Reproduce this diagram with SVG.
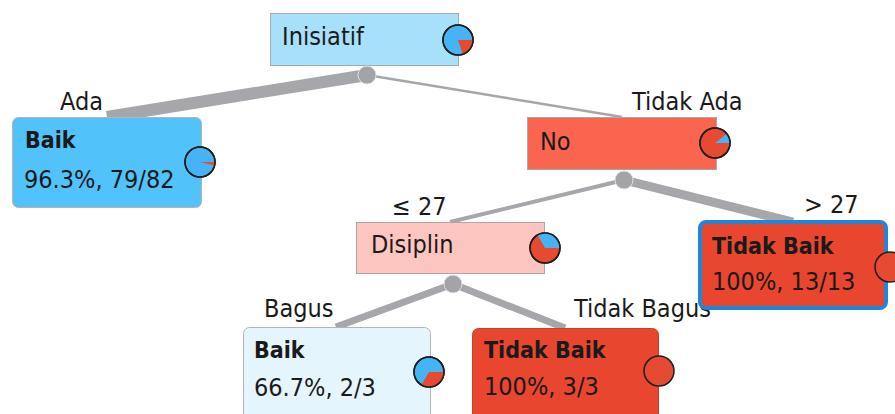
<svg xmlns="http://www.w3.org/2000/svg" width="895" height="414" viewBox="0 0 895 414">
<style>
text{font-family:"DejaVu Sans Condensed","DejaVu Sans",sans-serif;font-stretch:condensed;font-size:25px;fill:#1a1a1a}
.b{font-weight:bold;font-size:23px}
.lbl{fill:#1a1a1a}
.edge{stroke:#a6a6ab;fill:none;stroke-linecap:butt}
.knob{fill:#a3a3a8;stroke:#e0e0e4;stroke-width:1}
.inner{stroke:#a9a9a9;stroke-width:1}
.leaf{stroke:#b4b4b4;stroke-width:1}
.pie{stroke:#1e1e1e;stroke-width:1.5}
.blue{fill:#45b3f4}
.red{fill:#e64a30}
</style>
<rect width="895" height="414" fill="#ffffff"/>
<g id="connectors">
<line class="edge" x1="367" y1="75" x2="107" y2="117" stroke-width="12"/>
<line class="edge" x1="367" y1="75" x2="622" y2="117" stroke-width="2.5"/>
<line class="edge" x1="624" y1="180" x2="450" y2="222" stroke-width="4"/>
<line class="edge" x1="624" y1="180" x2="793" y2="222" stroke-width="9"/>
<line class="edge" x1="453" y1="284" x2="336" y2="327" stroke-width="7"/>
<line class="edge" x1="453" y1="284" x2="565" y2="328" stroke-width="7"/>
<text class="lbl" x="60" y="110">Ada</text>
<text class="lbl" x="632" y="110">Tidak Ada</text>
<text class="lbl" x="392" y="215">≤ 27</text>
<text class="lbl" x="804" y="213">&gt; 27</text>
<text class="lbl" x="264" y="317">Bagus</text>
<text class="lbl" x="574" y="317">Tidak Bagus</text>
</g>
<g id="node-inisiatif">
<rect class="inner" x="270.5" y="13.5" width="188" height="52" fill="#a6e0fb"/>
<circle class="knob" cx="367" cy="75" r="9"/>
<text x="282" y="45">Inisiatif</text>
<circle class="blue pie" cx="458" cy="40" r="15"/>
<path class="red" d="M458,40 L473,40 A15,15 0 0 1 462.8,54.2 Z"/>
<circle cx="458" cy="40" r="15" fill="none" class="pie"/>
</g>
<g id="node-baik-ada">
<rect class="leaf" x="12.5" y="117.5" width="189" height="90" rx="6" fill="#52c2fa"/>
<text class="b" x="25" y="148">Baik</text>
<text x="24" y="188">96.3%, 79/82</text>
<circle class="blue pie" cx="200" cy="162" r="15"/>
<path class="red" d="M200,162 L215,162 A15,15 0 0 1 214.6,165.4 Z"/>
<circle cx="200" cy="162" r="15" fill="none" class="pie"/>
</g>
<g id="node-no">
<rect class="inner" x="527.5" y="117.5" width="189" height="52" fill="#fa6550"/>
<circle class="knob" cx="624" cy="180" r="9"/>
<text x="540" y="150">No</text>
<circle class="red pie" cx="715" cy="143" r="15"/>
<path class="blue" d="M715,143 L730,143 A15,15 0 0 0 726.8,133.8 Z"/>
<circle cx="715" cy="143" r="15" fill="none" class="pie"/>
</g>
<g id="node-disiplin">
<rect class="inner" x="356.5" y="222.5" width="188" height="51" fill="#fdc5bf"/>
<circle class="knob" cx="453" cy="284" r="9"/>
<text x="371" y="253">Disiplin</text>
<circle class="red pie" cx="545" cy="248" r="15"/>
<path class="blue" d="M545,248 L560,248 A15,15 0 0 0 537.5,235 Z"/>
<circle cx="545" cy="248" r="15" fill="none" class="pie"/>
</g>
<g id="node-tidakbaik-gt27">
<rect x="700" y="222" width="186" height="86" rx="6" fill="#e8462f" stroke="#1f86dc" stroke-width="4"/>
<text class="b" x="712" y="254">Tidak Baik</text>
<text x="712" y="290">100%, 13/13</text>
<circle class="red pie" cx="890" cy="267" r="15"/>
</g>
<g id="node-baik-bagus">
<rect class="leaf" x="243.5" y="327.5" width="187" height="100" rx="6" fill="#e5f5fd"/>
<text class="b" x="254" y="358">Baik</text>
<text x="254" y="396">66.7%, 2/3</text>
<circle class="blue pie" cx="429" cy="372" r="15"/>
<path class="red" d="M429,372 L421.5,385 A15,15 0 0 0 444,372 Z"/>
<circle cx="429" cy="372" r="15" fill="none" class="pie"/>
</g>
<g id="node-tidakbaik-tidakbagus">
<rect x="472.5" y="328.5" width="186" height="100" rx="6" fill="#e8462f" stroke="#c8402c" stroke-width="1"/>
<text class="b" x="484" y="358">Tidak Baik</text>
<text x="484" y="395">100%, 3/3</text>
<circle class="red pie" cx="659" cy="371" r="15"/>
</g>
</svg>
